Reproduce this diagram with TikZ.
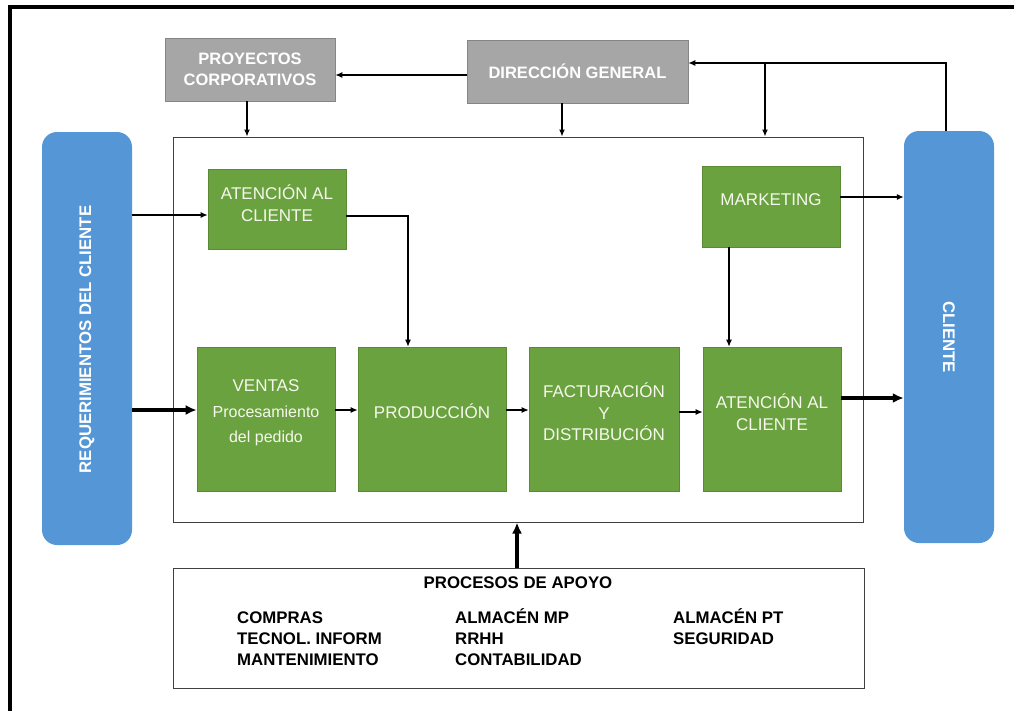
\documentclass[tikz,border=0pt]{standalone}
\usepackage{fontspec}
\setmainfont{Liberation Sans}
\usetikzlibrary{arrows.meta}
\definecolor{boxgreen}{RGB}{106,162,64}
\definecolor{boxgray}{RGB}{166,166,166}
\definecolor{boxblue}{RGB}{84,150,214}
\definecolor{gtext}{RGB}{246,248,236}
\tikzset{
  gbox/.style={draw=boxgreen!85!black, line width=0.6pt, fill=boxgreen, minimum width=#1},
  graybox/.style={draw=boxgray!80!black, line width=0.6pt, fill=boxgray, minimum height=63pt,
    text=white, font=\fontsize{16.5}{19}\selectfont\bfseries, align=center},
  bluebox/.style={draw=none, fill=boxblue, rounded corners=15pt, minimum width=90pt},
  gtxt/.style={text=gtext, font=\fontsize{17}{21.5}\selectfont, align=center},
  btxt/.style={text=white, font=\fontsize{16.8}{19}\selectfont\bfseries},
  ptxt/.style={font=\fontsize{16.8}{20}\selectfont\bfseries, anchor=base west, inner sep=0pt},
  arr/.style={line width=1.2pt, -{Latex[length=7pt,width=6pt]}},
  thickarr/.style={line width=3.5pt, -{Latex[length=11pt,width=10pt]}},
}
\begin{document}
\begin{tikzpicture}[x=1pt,y=-1pt]
\useasboundingbox (0,0) rectangle (1014,710);
\fill[white] (0,0) rectangle (1014,710);
% outer frame, open to the right and bottom edges
\begin{scope}
  \clip (0,0) rectangle (1014,710);
  \draw[line width=3.2pt] (10,7) rectangle (1040,740);
\end{scope}

% top management boxes
\node[graybox, minimum width=170pt] (proy) at (250,69.5) {PROYECTOS\\[2pt]CORPORATIVOS};
\node[graybox, minimum width=221pt] (dir) at (577.5,71.5) {DIRECCIÓN GENERAL};

% core process frame
\node[draw=black!75, line width=1pt, minimum width=690pt, minimum height=385pt] (main) at (518,329.5) {};

% client columns
\node[bluebox, minimum height=413pt] (req) at (87,338.5) {};
\node[btxt, rotate=90] at ([yshift=-1pt]req.center) {REQUERIMIENTOS DEL CLIENTE};
\node[bluebox, minimum height=412pt] (cli) at (949,337) {};
\node[btxt, rotate=-90] at (cli.center) {CLIENTE};

% green process boxes
\node[gbox=138pt, minimum height=80pt] (aten1) at (277,209) {};
\node[gtxt] at ([yshift=6pt]aten1.center) {ATENCIÓN AL\\CLIENTE};
\node[gbox=138pt, minimum height=81pt] (mkt) at (771,206.5) {};
\node[gtxt] at ([yshift=7pt]mkt.center) {MARKETING};
\node[gbox=138pt, minimum height=144pt] (ventas) at (266,419) {};
\node[gtxt, font=\fontsize{17}{27}\selectfont] at ([yshift=6pt]ventas.center) {VENTAS\\[-1pt]{\fontsize{16}{22}\selectfont Procesamiento}\\[-2pt]{\fontsize{16}{22}\selectfont del pedido}};
\node[gbox=148pt, minimum height=144pt] (prod) at (432,419) {};
\node[gtxt] at ([yshift=8pt]prod.center) {PRODUCCIÓN};
\node[gbox=150pt, minimum height=144pt] (fact) at (604,419) {};
\node[gtxt] at ([yshift=7pt]fact.center) {FACTURACIÓN\\Y\\DISTRIBUCIÓN};
\node[gbox=138pt, minimum height=144pt] (aten2) at (772,419) {};
\node[gtxt] at ([yshift=7pt]aten2.center) {ATENCIÓN AL\\CLIENTE};

% support processes
\node[draw=black!75, line width=1pt, minimum width=691pt, minimum height=120pt] (apoyo) at (518.5,628) {};
\node[font=\fontsize{16.8}{20}\selectfont\bfseries] at (518,583) {PROCESOS DE APOYO};
\node[ptxt] at (237,623) {COMPRAS};
\node[ptxt] at (237,644) {TECNOL. INFORM};
\node[ptxt] at (237,665) {MANTENIMIENTO};
\node[ptxt] at (455,623) {ALMACÉN MP};
\node[ptxt] at (455,644) {RRHH};
\node[ptxt] at (455,665) {CONTABILIDAD};
\node[ptxt] at (673,623) {ALMACÉN PT};
\node[ptxt] at (673,644) {SEGURIDAD};

% management connectors
\draw[arr] ([yshift=-3.5pt]dir.west) -- ([yshift=-3.5pt]dir.west -| proy.east);
\draw[arr] ([xshift=-3pt]proy.south) -- ([xshift=-3pt]proy.south |- main.north);
\draw[arr] ([xshift=-15.5pt]dir.south) -- ([xshift=-15.5pt]dir.south |- main.north);
\coordinate (fb) at (765,63);
\draw[arr] ([xshift=-3pt]cli.north) |- ([yshift=8.5pt]dir.east);
\draw[arr] (fb) -- (fb |- main.north);

% customer flow
\draw[arr] ([yshift=-6pt]aten1.west -| req.east) -- ([yshift=-6pt]aten1.west);
\draw[arr] ([yshift=-7pt]aten1.east) -| ([xshift=-24pt]prod.north);
\draw[arr] ([yshift=9.5pt]mkt.east) -- ([yshift=9.5pt]mkt.east -| cli.west);
\draw[arr] ([xshift=-42pt]mkt.south) -- ([xshift=-43pt]aten2.north);
\draw[thickarr] ([yshift=9pt]ventas.west -| req.east) -- ([yshift=9pt]ventas.west);
\draw[arr] ([yshift=9pt]ventas.east) -- ([yshift=9pt]prod.west);
\draw[arr] ([yshift=9pt]prod.east) -- ([yshift=9pt]fact.west);
\draw[arr] ([yshift=7pt]fact.east) -- ([yshift=7pt]aten2.west);
\draw[thickarr] ([yshift=21pt]aten2.east) -- ([yshift=21pt]aten2.east -| cli.west);
\draw[thickarr] ([xshift=-1.5pt]apoyo.north) -- ([xshift=-1.5pt]apoyo.north |- main.south);
\end{tikzpicture}
\end{document}
